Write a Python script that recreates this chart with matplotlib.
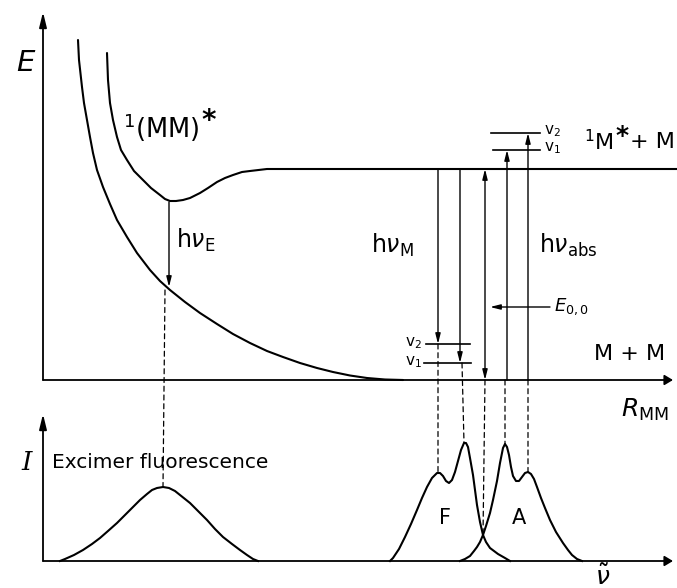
import numpy as np
import matplotlib
matplotlib.use("Agg")
import matplotlib.pyplot as plt
from matplotlib.patches import ConnectionPatch

# --- potential curves (R_MM, E) ---
ground_R = [35, 36, 39, 41, 44, 47, 50, 54, 60, 67, 74, 84, 94, 107, 117, 127, 142, 157,
            174, 190, 207, 224, 240, 257, 274, 290, 307, 324, 342, 360]
ground_E = [340, 320, 293, 277, 260, 243, 227, 210, 193, 176, 160, 143, 127, 110, 99, 90, 78, 67,
            56, 46, 37, 29, 23, 17, 12, 8, 4.5, 2, 0.5, 0]

excimer_R = [64, 65, 67, 70, 74, 78, 84, 91, 100, 108, 117, 122, 127, 133, 140, 147, 157, 165,
             174, 182, 190, 199, 207, 224, 240, 257, 634]
excimer_E = [327, 300, 277, 260, 243, 230, 220, 209, 200, 192, 185, 181, 179, 179, 180, 182, 187, 192,
             198, 202, 205, 208, 209, 211, 211, 211, 211]

E_star = 211          # 1M* + M level
hvE_R = 126
hvE_E = [178, 93]

emission_R = [395, 417]
emission_end = [36, 17]
e00_R = 442
absorption_R = [464, 485]
absorption_end = [230, 247]

lower_levels = [36, 17]          # v2, v1 of M + M
lower_span = [[383, 427], [381, 428]]
upper_levels = [247, 230]        # v2, v1 of 1M* + M
upper_span = [[448, 497], [450, 497]]
level_names = ["2", "1"]

# --- spectra (wavenumber, intensity) ---
exc_nu = [17, 22, 31, 40, 49, 57, 65, 74, 82, 90, 97, 104, 109, 114, 120, 126, 132, 137, 142,
          147, 155, 164, 172, 180, 189, 197, 204, 210, 215]
exc_I = [0, 2, 6, 11, 17, 23, 30, 38, 46, 54, 61, 67, 71, 73, 74, 73, 70, 66, 62,
         58, 50, 41, 32, 24, 17, 11, 6, 2, 0]

F_nu = [347, 350, 356, 362, 368, 374, 379, 384, 389, 394, 397, 400, 403, 406, 409, 412, 415, 418,
        421, 423, 425, 427, 430, 432, 434, 437, 440, 443, 447, 451, 455, 462, 467]
F_I = [0, 3, 12, 24, 37, 51, 63, 74, 83, 88, 88, 85, 80, 78, 81, 89, 100, 111,
       118, 118, 114, 103, 86, 71, 56, 39, 26, 19, 13, 10, 7, 3, 0]

A_nu = [417, 422, 427, 431, 434, 437, 440, 443, 447, 450, 454, 457, 460, 462, 464, 466, 468, 470,
        473, 476, 479, 482, 485, 488, 491, 494, 498, 502, 507, 513, 520, 525, 529, 534, 539]
A_I = [0, 2, 5, 10, 14, 19, 26, 35, 48, 61, 80, 98, 113, 117, 114, 106, 94, 85,
       80, 80, 84, 88, 89, 87, 82, 74, 63, 53, 41, 29, 18, 11, 6, 2, 0]

# dashed links: level point above -> band feature below
link_R = [122, 395, 419, 442, 462, 485]
link_E = [90, 36, 17, 0, 0, 0]
link_nu = [120, 395, 421, 440, 462, 485]
link_I = [74, 88, 118, 26, 117, 89]

fig = plt.figure(figsize=(6.77, 5.88), dpi=100)
top = fig.add_axes([0, 0, 1, 1])
top.set_xlim(-43, 634)
top.set_ylim(-208, 380)
bot = fig.add_axes([0, 0, 1, 1])
bot.set_xlim(-43, 634)
bot.set_ylim(-27, 561)
for a in (top, bot):
    a.axis("off")
    a.patch.set_visible(False)

k = "black"


def arrow(ax, start, end, style="-|>,head_length=0.6,head_width=0.15", lw=1.0):
    ax.annotate("", xy=end, xytext=start,
                arrowprops=dict(arrowstyle=style, lw=lw, color=k,
                                shrinkA=0, shrinkB=0))


def star_after(ax, txt, size):
    # bold asterisk hung at the upper right of a label
    return ax.annotate("*", xy=(1, 0.72), xycoords=txt, xytext=(1, 0),
                       textcoords="offset points", fontsize=size, weight="bold",
                       ha="left", va="center")


# axes arrows
axis_style = "-|>,head_length=0.9,head_width=0.22"
arrow(top, (0, 0), (0, 368), axis_style, 1.3)
arrow(top, (0, 0), (630, 0), "-|>,head_length=0.5,head_width=0.3", 1.3)
arrow(bot, (0, 0), (0, 147), axis_style, 1.3)
arrow(bot, (0, 0), (630, 0), "-|>,head_length=0.5,head_width=0.3", 1.3)

# potential curves
top.plot(ground_R, ground_E, color=k, lw=1.5, solid_capstyle="round", solid_joinstyle="round")
top.plot(excimer_R, excimer_E, color=k, lw=1.5, solid_capstyle="round", solid_joinstyle="round")

# vibrational levels
for E, (r0, r1) in zip(lower_levels, lower_span):
    top.plot([r0, r1], [E, E], color=k, lw=1.2)
for E, (r0, r1) in zip(upper_levels, upper_span):
    top.plot([r0, r1], [E, E], color=k, lw=1.2)

# transitions
arrow(top, (hvE_R, hvE_E[0]), (hvE_R, hvE_E[1]))
for r, e in zip(emission_R, emission_end):
    arrow(top, (r, E_star), (r, e))
for r, e in zip(absorption_R, absorption_end):
    arrow(top, (r, 0), (r, e))
arrow(top, (e00_R, 0), (e00_R, E_star), "<|-|>,head_length=0.6,head_width=0.15")
arrow(top, (507, 73), (447, 73))

# spectra
for nu, inten in [(exc_nu, exc_I), (F_nu, F_I), (A_nu, A_I)]:
    bot.plot(nu, inten, color=k, lw=1.5, solid_joinstyle="round")

# dashed connectors
for r, e, n, i in zip(link_R, link_E, link_nu, link_I):
    con = ConnectionPatch(xyA=(r, e), coordsA=top.transData,
                          xyB=(n, i), coordsB=bot.transData,
                          color=k, lw=0.9, linestyle=(0, (4, 3)))
    fig.add_artist(con)

# labels - top panel
top.text(-18, 317, "E", fontsize=21, style="italic", ha="center", va="center")
mm = top.text(80, 252, r"$^{1}$(MM)", fontsize=18.5, ha="left", va="center")
star_after(top, mm, 20)
top.text(133, 140, r"h$\nu_{\mathrm{E}}$", fontsize=17, ha="left", va="center")
top.text(328, 135, r"h$\nu_{\mathrm{M}}$", fontsize=17, ha="left", va="center")
top.text(496, 135, r"h$\nu_{\mathrm{abs}}$", fontsize=17, ha="left", va="center")
m1 = top.text(541, 238, r"$^{1}$M", fontsize=16, ha="left", va="center")
s1 = star_after(top, m1, 18)
top.annotate("+ M", xy=(1, 0.5), xycoords=(s1, m1), xytext=(1, 0),
             textcoords="offset points", fontsize=16, ha="left", va="center")
top.text(551, 26, "M + M", fontsize=16, ha="left", va="center")
top.text(511, 73, r"$E_{0,0}$", fontsize=13, ha="left", va="center")
top.text(578, -30, r"$R_{\mathrm{MM}}$", fontsize=18, ha="left", va="center")
for E, n in zip(upper_levels, level_names):
    top.text(501, E + 2, r"v$_{%s}$" % n, fontsize=11, ha="left", va="center")
for E, n in zip(lower_levels, level_names):
    top.text(379, E + 1, r"v$_{%s}$" % n, fontsize=11, ha="right", va="center")

# labels - bottom panel
bot.text(-16, 98, "I", fontsize=19, style="italic", family="DejaVu Serif",
         ha="center", va="center")
bot.text(9, 98, "Excimer fluorescence", fontsize=14.5, ha="left", va="center")
bot.text(402, 43, "F", fontsize=15, ha="center", va="center")
bot.text(476, 43, "A", fontsize=15, ha="center", va="center")
bot.text(560, -16, r"$\tilde{\nu}$", fontsize=18, ha="center", va="center")

fig.savefig("out.png", dpi=100)
